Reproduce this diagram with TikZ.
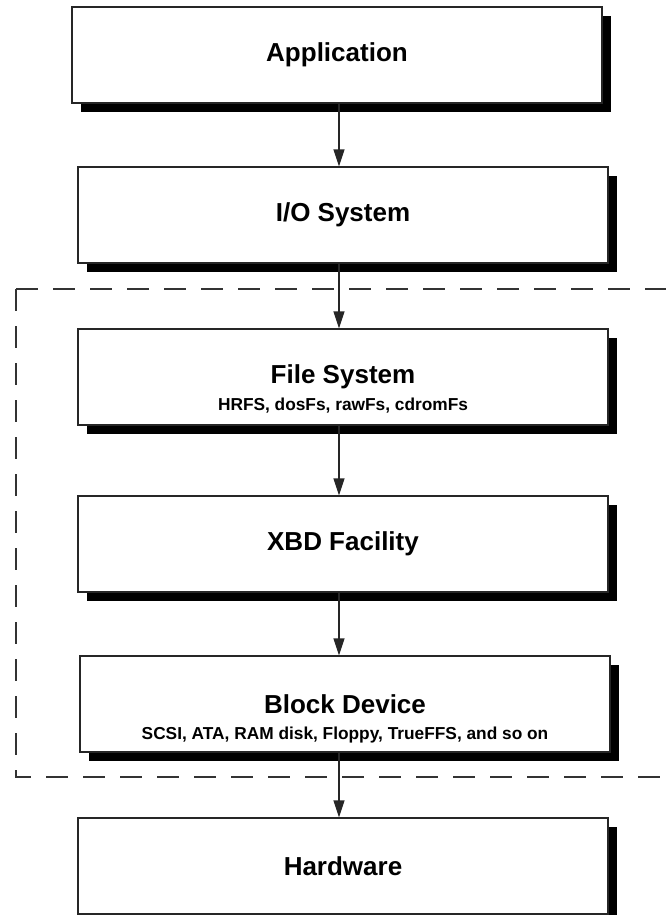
\documentclass[tikz,border=0pt]{standalone}
\usepackage{fontspec}
\setmainfont{Liberation Sans}
\usetikzlibrary{arrows.meta,shadows}
\tikzset{
  layer/.style={draw=black!85, line width=1.3pt, fill=white,
    minimum width=530pt, minimum height=96pt, inner sep=0pt,
    font=\fontsize{26}{29}\selectfont\bfseries,
    drop shadow={shadow xshift=9pt, shadow yshift=-9pt, fill=black, opacity=1}},
  sublabel/.style={font=\fontsize{17.3}{20}\selectfont\bfseries, inner sep=0pt},
  flow/.style={draw=black!85, line width=1.3pt, -{Triangle[length=17pt,width=11pt]}},
  region/.style={draw=black!80, line width=1.8pt, dash pattern=on 22pt off 15pt}
}
\begin{document}
\begin{tikzpicture}[x=1pt,y=1pt]
  \useasboundingbox[fill=white] (0,0) rectangle (666,-915);

  % subsystem boundary (open to the right)
  \draw[region] (16,-289) -- (700,-289);
  \draw[region] (16,-289) -- (16,-777) -- (700,-777);

  % layers
  \node[layer] (app) at (337,-55)  {Application};
  \node[layer] (io)  at (343,-215) {I/O System};
  \node[layer] (fs)  at (343,-377) {File System};
  \node[layer] (xbd) at (343,-544) {XBD Facility};
  \node[layer] (blk) at (345,-704) {Block Device};
  \node[layer] (hw)  at (343,-866) {Hardware};

  \node[sublabel] (fssub)  at ([yshift=-29pt]fs.center)  {HRFS, dosFs, rawFs, cdromFs};
  \node[sublabel] (blksub) at ([yshift=-31pt]blk.center) {SCSI, ATA, RAM disk, Floppy, TrueFFS, and so on};

  % arrow column
  \coordinate (spine) at (339,0);
  \draw[flow] (app.south -| spine) -- (io.north -| spine);
  \draw[flow] (io.south -| spine)  -- (fs.north -| spine);
  \draw[flow] (fs.south -| spine)  -- (xbd.north -| spine);
  \draw[flow] (xbd.south -| spine) -- (blk.north -| spine);
  \draw[flow] (blk.south -| spine) -- (hw.north -| spine);
\end{tikzpicture}
\end{document}
